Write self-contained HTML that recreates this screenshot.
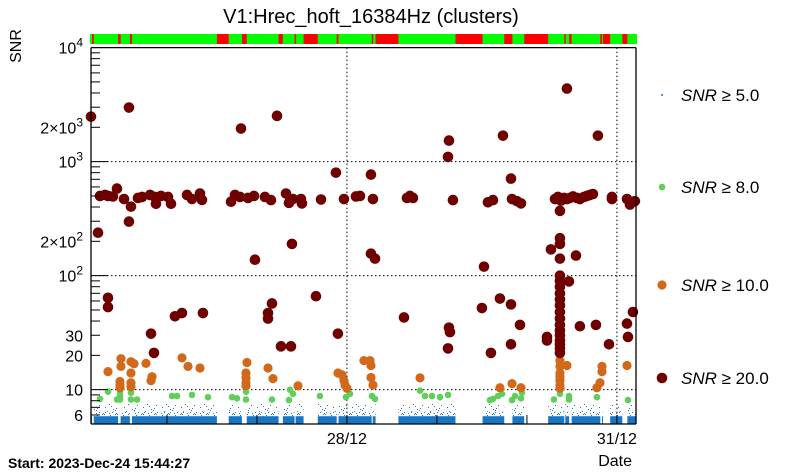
<!DOCTYPE html>
<html><head><meta charset="utf-8"><style>
html,body{margin:0;padding:0;background:#fff;}
svg{display:block;font-family:"Liberation Sans",sans-serif;}
</style></head><body>
<svg id="chart" width="805" height="472" viewBox="0 0 805 472">
<defs>
<pattern id="speck" width="19" height="10" patternUnits="userSpaceOnUse">
<rect x="1" y="0" width="1" height="1" fill="#1976c2"/><rect x="7" y="2" width="1" height="1" fill="#1976c2"/><rect x="12" y="1" width="1" height="2" fill="#1976c2"/><rect x="16" y="6" width="1" height="1" fill="#1976c2"/><rect x="4" y="5" width="1" height="1" fill="#1976c2"/><rect x="10" y="7" width="1" height="1" fill="#1976c2"/><rect x="14" y="4" width="1" height="1" fill="#1976c2"/><rect x="2" y="8" width="1" height="1" fill="#1976c2"/><rect x="18" y="9" width="1" height="1" fill="#1976c2"/>
</pattern>
<pattern id="speck2" width="13" height="6" patternUnits="userSpaceOnUse">
<rect x="0" y="0" width="1" height="1" fill="#1976c2"/><rect x="3" y="2" width="1" height="1" fill="#1976c2"/><rect x="6" y="1" width="1" height="1" fill="#1976c2"/><rect x="9" y="3" width="1" height="1" fill="#1976c2"/><rect x="11" y="0" width="1" height="1" fill="#1976c2"/><rect x="1" y="4" width="1" height="1" fill="#1976c2"/><rect x="5" y="5" width="1" height="1" fill="#1976c2"/><rect x="8" y="4" width="1" height="1" fill="#1976c2"/><rect x="12" y="5" width="1" height="1" fill="#1976c2"/><rect x="4" y="3" width="1" height="1" fill="#1976c2"/>
</pattern>
</defs>
<rect x="0" y="0" width="805" height="472" fill="#fff"/>
<text x="371" y="23" font-size="20" text-anchor="middle">V1:Hrec_hoft_16384Hz (clusters)</text>
<text transform="translate(21,46) rotate(-90)" font-size="16" text-anchor="middle">SNR</text>
<text x="8" y="468" font-size="14" font-weight="bold">Start: 2023-Dec-24 15:44:27</text>
<text x="632" y="466" font-size="16" text-anchor="end">Date</text>
<g id="status"></g>
<g id="grid"></g>
<g id="blue"></g>
<g id="marks"></g>
<g id="axes"></g>
<g id="legend"></g>
</svg>
<script>
// time in days since start, SNR values
const xMin = 0, xMax = 6.056, yMin = 5, yMax = 10000;
const redSegStart = [0.012,0.301,0.432,1.399,1.677,2.084,2.262,2.362,2.730,3.119,3.162,4.050,4.592,4.814,5.259,5.313,5.659,5.690,5.904];
const redSegEnd   = [0.031,0.329,0.456,1.530,1.731,2.132,2.274,2.520,2.750,3.130,3.416,4.351,4.683,5.080,5.270,5.341,5.679,5.769,5.960];
const maroonX = [0,0.422,1.667,2.067,0.1,0.156,0.189,0.244,0.289,0.367,0.444,0.422,0.078,0.522,0.567,0.656,0.711,0.722,0.778,0.856,0.889,1.067,1.122,1.211,1.233,1.556,1.6,1.656,1.744,1.811,1.933,2.0,2.167,2.2,2.244,2.333,2.344,2.556,2.722,2.811,2.944,2.233,1.822,0.189,0.189,0.667,0.7,0.933,1.011,1.244,1.967,1.967,2.011,2.111,2.222,2.5,2.744,
5.289,3.978,3.967,4.578,5.633,3.111,4.667,2.989,3.133,3.511,3.544,3.578,4.022,4.411,4.467,4.678,4.733,4.778,5.156,5.189,5.222,5.256,5.289,5.322,5.356,5.4,5.433,5.478,5.511,5.544,5.578,5.789,5.789,5.956,5.989,6.044,5.211,
3.111,3.156,4.367,5.211,5.111,5.211,5.211,5.389,5.311,3.478,3.978,3.989,3.967,4.344,4.544,4.667,4.767,4.444,4.667,5.067,5.067,5.433,5.611,5.756,5.956,6.022,5.967,
5.211,5.211,5.211,5.211,5.211,5.211,5.211,5.211,5.211,5.211,5.211,5.211,5.211,5.211,5.211];
const maroonY = [2480,2980,1950,2520,500,510,500,495,580,470,403,298,238,480,490,510,490,427,500,490,427,510,470,525,462,445,510,490,480,500,490,460,525,435,470,470,430,465,800,470,495,190,138,64,53,31,21,44,47,47,47,42,57,24,24,66,31,
4370,1530,1100,1690,1690,770,710,500,470,480,500,480,460,440,460,470,450,430,470,490,455,480,470,480,495,480,470,490,500,510,520,470,490,470,420,450,370,
156,141,120,213,170,190,141,150,89,43,35,32,23,52,63,56,37,21,25,29,27,36,37,25,38,48,29,
100,90,80,70,62,55,48,42,37,33,30,27,25,23,21];
const orangeX = [0.189,0.333,0.333,0.322,0.322,0.322,0.444,0.478,0.444,0.444,0.444,0.611,0.678,0.667,1.011,1.078,1.211,1.733,1.722,1.722,1.722,1.722,1.967,2.022,2.3,2.744,2.789,2.811,2.822,2.844,3.033,3.1,3.111,3.111,3.133,3.656,4.544,4.678,4.778,5.289,5.211,5.211,5.211,5.211,5.211,5.211,5.211,5.678,5.678,5.656,5.622,5.956];
const orangeY = [14.4,18.7,16,11.8,11,10.4,17.6,16.9,14,11.5,10.6,17,13,12,19,16,15.5,17.3,14,12.7,11.5,10.8,15.5,12.5,10.8,14,13.5,12,11,10.3,18,18,16.3,12.8,11,12.7,10.4,11.3,10.4,16.3,18,16,14,13,12,11,10.3,16,14.4,11.5,10.4,16.3];
const greenX = [0.1,0.189,0.289,0.322,0.322,0.322,0.444,0.444,0.511,0.9,0.956,1.122,1.3,1.567,1.622,1.722,1.722,2.011,2.2,2.211,2.244,2.544,2.833,2.878,3.122,3.156,3.656,3.711,3.789,3.878,3.967,4.433,4.467,4.522,4.567,4.678,4.711,4.789,4.778,5.144,5.211,5.311,5.311,5.622,5.967];
const greenY = [8.3,9.6,8.2,9.5,8.8,8.2,9.4,8.2,8.2,8.8,8.8,9,8.6,8.6,8.4,9.6,8.2,8.2,8.1,10,9.2,8.8,8.6,9.2,8.8,8.3,9.8,8.8,8.8,8.6,9,8.1,8.3,8.8,9.2,8.1,8.8,9.4,8.4,8.2,9.2,8.8,8.2,8.6,8.1];
const yTickVals = [10000,2000,1000,200,100,30,20,10,6];
const yTickLabels = ["10^4","2×10^3","10^3","2×10^2","10^2","30","20","10","6"];
const xTickDays = [0.844,1.844,2.844,3.844,4.844,5.844];
const xLabelDays = [2.844,5.844];
const xLabels = ["28/12","31/12"];
const legendLabels = ["5.0","8.0","10.0","20.0"];

const L=91,R=636,T=47.6,B=424;
const NS="http://www.w3.org/2000/svg";
function xS(d){return L+(d-xMin)/(xMax-xMin)*(R-L);}
function yS(v){return B-(Math.log10(v)-Math.log10(yMin))/(Math.log10(yMax)-Math.log10(yMin))*(B-T);}
function mk(tag,attrs,parent){const e=document.createElementNS(NS,tag);for(const k in attrs)e.setAttribute(k,attrs[k]);document.getElementById(parent).appendChild(e);return e;}

// status bar
let sb=mk('rect',{x:L-1,y:34,width:R-L+2,height:10,fill:'#00ff00'},'status');


for(let i=0;i<redSegStart.length;i++){
  const r=mk('rect',{x:xS(redSegStart[i]),y:34,width:Math.max(1.5,xS(redSegEnd[i])-xS(redSegStart[i])),height:10,fill:'#ff0000'},'status');
  
  
}
// blue band over active segments
const segs=[];let s=xMin;
for(let i=0;i<redSegStart.length;i++){segs.push([s,redSegStart[i]]);s=redSegEnd[i];}
segs.push([s,xMax]);
segs.forEach(g=>{
  const x0=xS(g[0]),w=xS(g[1])-x0;
  const a=mk('rect',{x:x0,y:yS(5.85),width:w,height:B-yS(5.85),fill:'#1976c2'},'blue');
  
  
  const c=mk('rect',{x:x0,y:yS(6.4),width:w,height:yS(5.85)-yS(6.4),fill:'url(#speck2)'},'blue');
  
  
  const b=mk('rect',{x:x0,y:yS(7.6),width:w,height:yS(6.4)-yS(7.6),fill:'url(#speck)'},'blue');
  
  
});
// grid
[10,100,1000].forEach(v=>{const l=mk('line',{x1:L,x2:R,y1:yS(v),y2:yS(v),stroke:'#000','stroke-dasharray':'1.5,2.5','stroke-width':1},'grid');

});
xLabelDays.forEach(d=>{const l=mk('line',{x1:xS(d),x2:xS(d),y1:T,y2:B,stroke:'#000','stroke-dasharray':'1.5,2.5','stroke-width':1},'grid');

});
// markers
function pts(xs,ys,r,col,name){for(let i=0;i<xs.length;i++){const c=mk('circle',{cx:xS(xs[i]),cy:yS(ys[i]),r:r,fill:col},'marks');

}}
pts(greenX,greenY,3.3,'#5fcf5a','point-snr8');
pts(orangeX,orangeY,4.6,'#d2691a','point-snr10');
pts(maroonX,maroonY,5.3,'#6e0000','point-snr20');
// axes frame
let ax=mk('line',{x1:L,x2:L,y1:T,y2:B,stroke:'#000','stroke-width':1.3},'axes');


ax=mk('line',{x1:L,x2:R,y1:B,y2:B,stroke:'#000','stroke-width':1.3},'axes');


ax=mk('line',{x1:R,x2:R,y1:T,y2:B,stroke:'#000','stroke-width':1.3},'axes');


ax=mk('line',{x1:L,x2:R,y1:T,y2:T,stroke:'#000','stroke-width':1.3},'axes');


// y ticks
for(let e=0;e<4;e++)for(let m=1;m<10;m++){const v=m*Math.pow(10,e);if(v<yMin||v>yMax)continue;
  const len=m===1?17:9;const t=mk('line',{x1:L,x2:L+len,y1:yS(v),y2:yS(v),stroke:'#000','stroke-width':1},'axes');
  
  }
yTickVals.forEach((v,i)=>{const lab=yTickLabels[i];const y=yS(v)+6;
  const t=mk('text',{x:83,y:y,'font-size':16,'text-anchor':'end'},'axes');
  
  
  if(lab.indexOf('^')>=0){const p=lab.split('^');const s1=document.createElementNS(NS,'tspan');s1.textContent=p[0];t.appendChild(s1);
    const s2=document.createElementNS(NS,'tspan');s2.setAttribute('dy','-7');s2.setAttribute('font-size','12');s2.textContent=p[1];t.appendChild(s2);}
  else t.textContent=lab;});
// x ticks
xTickDays.forEach(d=>{const t=mk('line',{x1:xS(d),x2:xS(d),y1:B,y2:B-9,stroke:'#000','stroke-width':1},'axes');

});
xLabelDays.forEach((d,i)=>{const t=mk('text',{x:xS(d),y:444,'font-size':16,'text-anchor':'middle'},'axes');t.textContent=xLabels[i];

});
// legend
const lgY=[95,187,285,378],lgR=[1,3.3,4.6,5.3],lgC=['#1976c2','#5fcf5a','#d2691a','#6e0000'];
legendLabels.forEach((lb,i)=>{
  const c=mk('circle',{cx:662,cy:lgY[i],r:lgR[i],fill:lgC[i]},'legend');
  
  
  const t=mk('text',{x:681,y:lgY[i]+6,'font-size':17},'legend');
  
  
  const a=document.createElementNS(NS,'tspan');a.setAttribute('font-style','italic');a.textContent='SNR';t.appendChild(a);
  const b=document.createElementNS(NS,'tspan');b.textContent=' ≥ '+lb;t.appendChild(b);
});
</script>
</body></html>
